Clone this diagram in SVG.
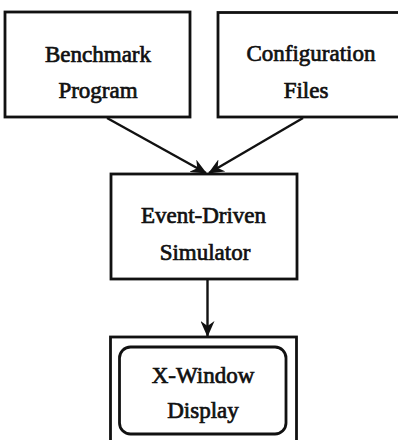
<svg xmlns="http://www.w3.org/2000/svg" width="398" height="440" viewBox="0 0 398 440">
<style>
.box{fill:#fff;stroke:#111;stroke-width:2.8}
.lbl{font-family:"Liberation Serif",serif;font-size:23px;fill:#111;stroke:#111;stroke-width:0.7;text-anchor:middle}
.conn{stroke:#111;stroke-width:2.4;fill:none}
</style>
<defs>
<marker id="arr" viewBox="0 0 16 14" refX="15" refY="7" markerWidth="16" markerHeight="14" markerUnits="userSpaceOnUse" orient="auto">
<path d="M0,0 L16,7 L0,14 L5,7 Z" fill="#111"/>
</marker>
</defs>
<rect width="398" height="440" fill="#fff"/>
<g id="connectors">
<line class="conn" x1="107" y1="118" x2="206" y2="173" marker-end="url(#arr)"/>
<line class="conn" x1="303" y1="118" x2="209" y2="173" marker-end="url(#arr)"/>
<line class="conn" x1="207.5" y1="280" x2="207.5" y2="336" marker-end="url(#arr)"/>
</g>
<g id="benchmark">
<rect class="box" x="5" y="12" width="185" height="105"/>
<text class="lbl" x="98" y="62">Benchmark</text>
<text class="lbl" x="98" y="98">Program</text>
</g>
<g id="config">
<rect class="box" x="218" y="12.5" width="184" height="104.5"/>
<text class="lbl" x="311" y="61">Configuration</text>
<text class="lbl" x="306" y="98">Files</text>
</g>
<g id="simulator">
<rect class="box" x="111" y="174" width="186" height="105"/>
<text class="lbl" x="203.5" y="223">Event-Driven</text>
<text class="lbl" x="205" y="260">Simulator</text>
</g>
<g id="display">
<rect class="box" x="110.5" y="337" width="186" height="110"/>
<rect class="box" x="119.5" y="347" width="166.5" height="87" rx="11"/>
<text class="lbl" x="203" y="383">X-Window</text>
<text class="lbl" x="203" y="418">Display</text>
</g>
</svg>
